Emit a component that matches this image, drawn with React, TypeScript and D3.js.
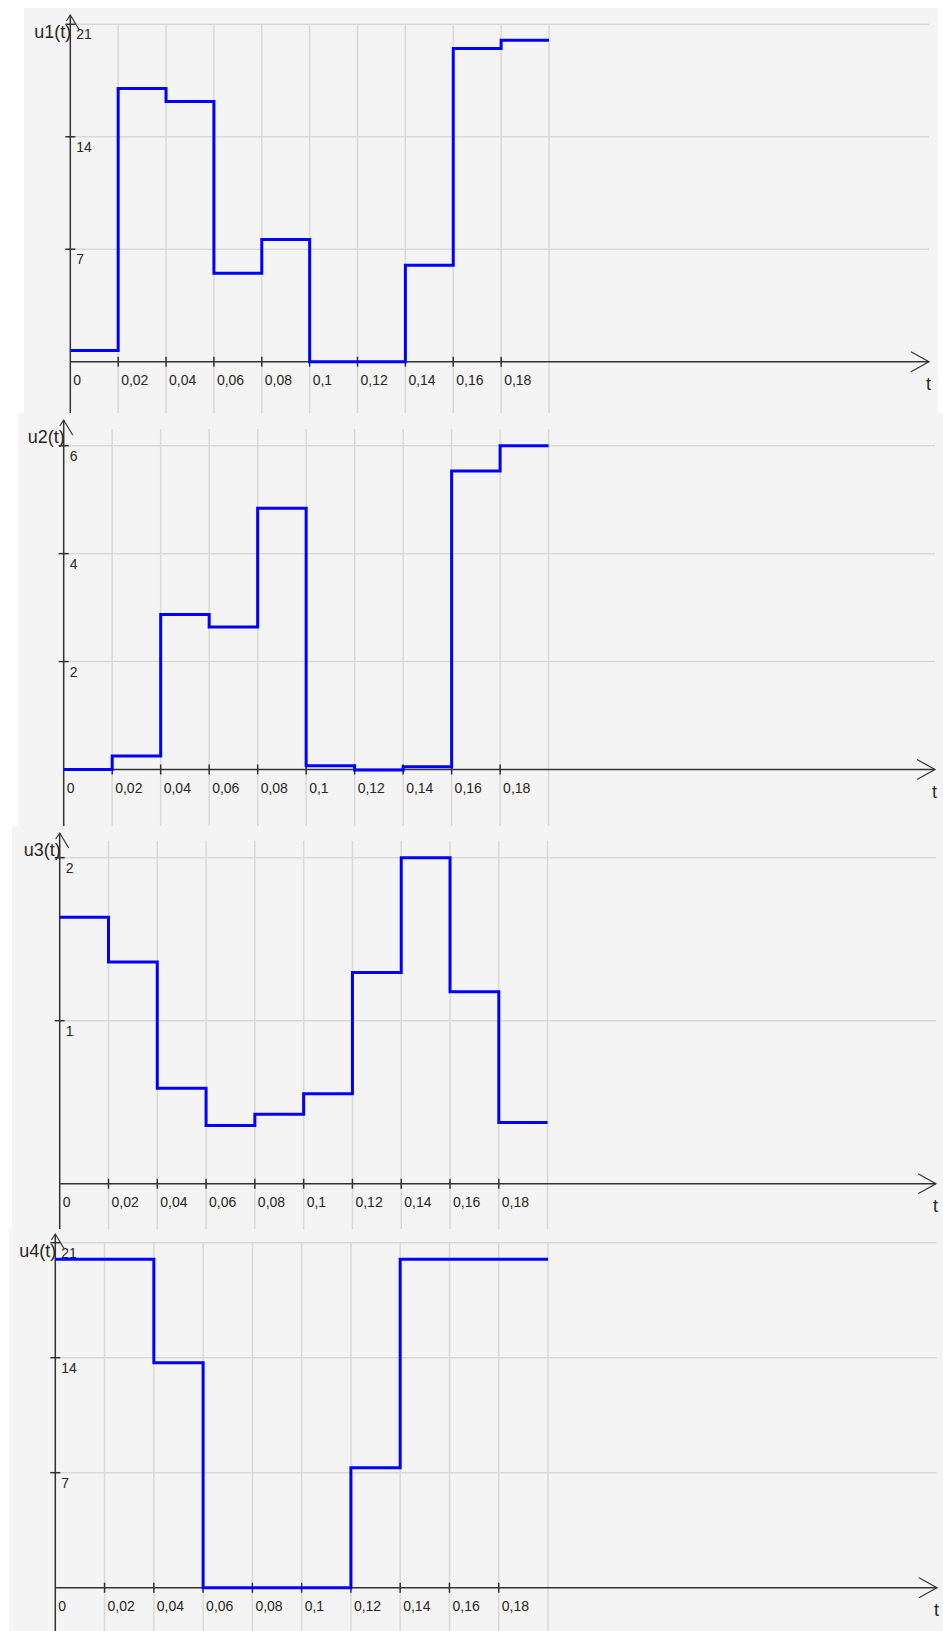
import React from "react";
import * as d3 from "d3";

// ---- data ----
const timeSteps = [0, 0.02, 0.04, 0.06, 0.08, 0.1, 0.12, 0.14, 0.16, 0.18];
const tEnd = 0.2;
const xTickValues = [0, 0.02, 0.04, 0.06, 0.08, 0.1, 0.12, 0.14, 0.16, 0.18];
const xTickLabels = ["0", "0,02", "0,04", "0,06", "0,08", "0,1", "0,12", "0,14", "0,16", "0,18"];
const xGridValues = [0.02, 0.04, 0.06, 0.08, 0.1, 0.12, 0.14, 0.16, 0.18, 0.2];

const u1 = [0.7, 17.0, 16.2, 5.5, 7.6, 0, 0, 6.0, 19.5, 20.0];
const u2 = [0, 0.25, 2.87, 2.64, 4.84, 0.07, -0.01, 0.05, 5.53, 6.0];
const u3 = [1.635, 1.36, 0.585, 0.357, 0.426, 0.552, 1.295, 2.0, 1.178, 0.375];
const u4 = [20, 20, 13.7, 0, 0, 0, 7.3, 20, 20, 20];

const u1Ticks = [7, 14, 21];
const u2Ticks = [2, 4, 6];
const u3Ticks = [1, 2];
const u4Ticks = [7, 14, 21];

const seriesNames = ["u1(t)", "u2(t)", "u3(t)", "u4(t)"];

// ---- layout (positions, not data) ----
type Layout = {
  bg: [number, number, number, number];
  x0: number; x1: number;
  y0: number; yTop: number; yMax: number;
  gridRight: number; axisTop: number; vGridTop: number;
};

const layouts: Layout[] = [
  { bg: [24, 8, 938, 413], x0: 70.3, x1: 549, y0: 361.7, yTop: 24.3, yMax: 21, gridRight: 929, axisTop: 15, vGridTop: 24.3 },
  { bg: [18, 413, 943, 826], x0: 63.7, x1: 548.6, y0: 769.5, yTop: 445.7, yMax: 6, gridRight: 935, axisTop: 420, vGridTop: 429 },
  { bg: [12, 826, 943, 1229], x0: 59.7, x1: 547.6, y0: 1183.7, yTop: 857.7, yMax: 2, gridRight: 936, axisTop: 833, vGridTop: 840.7 },
  { bg: [9, 1229, 943, 1631], x0: 55.3, x1: 548, y0: 1587.7, yTop: 1242.7, yMax: 21, gridRight: 937, axisTop: 1234, vGridTop: 1242.7 },
];

const allSeries = [u1, u2, u3, u4];
const allTicks = [u1Ticks, u2Ticks, u3Ticks, u4Ticks];

const FONT = "'Liberation Sans', Arial, sans-serif";
const TEXT = "#2a2520";
const AXIS = "#333333";
const GRID = "#d9d9d9";
const LINE = "#0000ff";

function Panel({ idx }: { idx: number }) {
  const L = layouts[idx];
  const values = allSeries[idx];
  const ticks = allTicks[idx];
  const x = d3.scaleLinear().domain([0, tEnd]).range([L.x0, L.x1]);
  const y = d3.scaleLinear().domain([0, L.yMax]).range([L.y0, L.yTop]);
  const pts: [number, number][] = timeSteps.map((t, i) => [t, values[i]]);
  pts.push([tEnd, values[values.length - 1]]);
  const line = d3
    .line<[number, number]>()
    .x((d) => x(d[0]))
    .y((d) => y(d[1]))
    .curve(d3.curveStepAfter);
  const [bx0, by0, bx1, by1] = L.bg;
  const tip = L.gridRight;
  return (
    <g>
      <rect x={bx0} y={by0} width={bx1 - bx0} height={by1 - by0} fill="#f4f4f4" />
      {xGridValues.map((v) => (
        <line key={"vg" + v} x1={x(v)} x2={x(v)} y1={L.vGridTop} y2={by1} stroke={GRID} strokeWidth={1.5} />
      ))}
      {ticks.map((v) => (
        <line key={"hg" + v} x1={L.x0} x2={L.gridRight} y1={y(v)} y2={y(v)} stroke={GRID} strokeWidth={1.5} />
      ))}
      <line x1={L.x0} x2={tip} y1={L.y0} y2={L.y0} stroke={AXIS} strokeWidth={1.5} />
      <path d={`M${tip - 18},${L.y0 - 10} L${tip},${L.y0} L${tip - 18},${L.y0 + 10}`} fill="none" stroke={AXIS} strokeWidth={1.2} />
      <line x1={L.x0} x2={L.x0} y1={L.axisTop} y2={by1} stroke={AXIS} strokeWidth={1.5} />
      <path d={`M${L.x0 - 4},${L.axisTop + 6} L${L.x0},${L.axisTop} L${L.x0 + 9},${L.axisTop + 15}`} fill="none" stroke={AXIS} strokeWidth={1.2} />
      {xTickValues.map((v, i) => (
        <g key={"xt" + v}>
          {i > 0 && <line x1={x(v)} x2={x(v)} y1={L.y0 - 5} y2={L.y0 + 5} stroke={AXIS} strokeWidth={1.5} />}
          <text x={x(v) + 3} y={L.y0 + 23} fontFamily={FONT} fontSize={14} fill={TEXT}>
            {xTickLabels[i]}
          </text>
        </g>
      ))}
      {ticks.map((v) => (
        <g key={"yt" + v}>
          <line x1={L.x0 - 5} x2={L.x0 + 5} y1={y(v)} y2={y(v)} stroke={AXIS} strokeWidth={1.5} />
          <text x={L.x0 + 6} y={y(v) + 15} fontFamily={FONT} fontSize={14} fill={TEXT}>
            {String(v)}
          </text>
        </g>
      ))}
      <path d={line(pts) || ""} fill="none" stroke={LINE} strokeWidth={3} strokeLinejoin="miter" />
      <text x={L.x0 + 1} y={L.axisTop + 23} textAnchor="end" fontFamily={FONT} fontSize={18} fill={TEXT}>
        {seriesNames[idx]}
      </text>
      <text x={tip - 3} y={L.y0 + 28} fontFamily={FONT} fontSize={18} fill={TEXT}>
        t
      </text>
    </g>
  );
}

export default function App() {
  return (
    <div style={{ position: "absolute", left: 0, top: 0 }}>
      <svg width={943} height={1631} style={{ display: "block", background: "#ffffff" }}>
        {layouts.map((_, i) => (
          <Panel key={i} idx={i} />
        ))}
      </svg>
    </div>
  );
}
